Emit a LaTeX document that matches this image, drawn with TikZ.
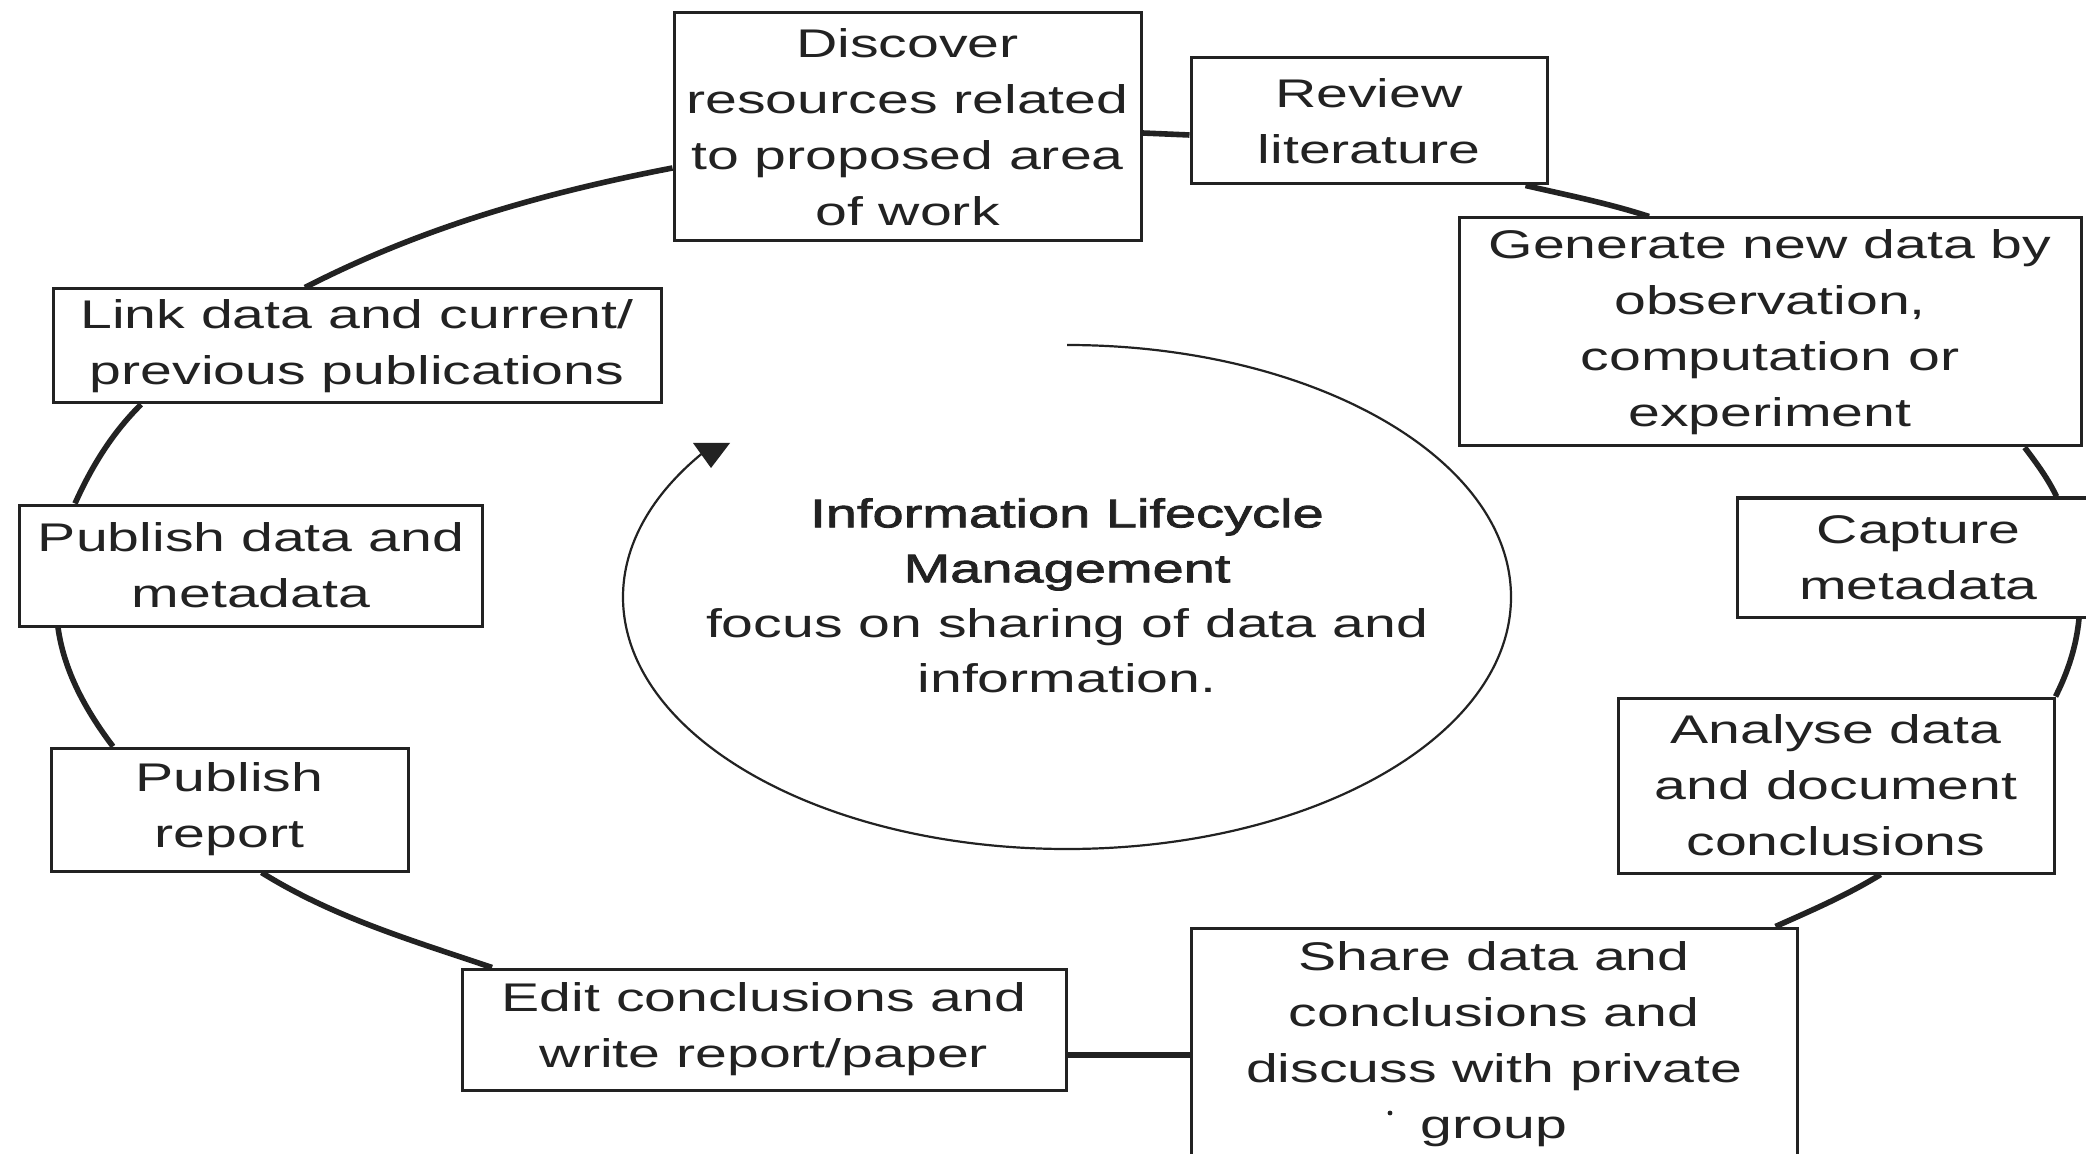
\documentclass[tikz,border=0pt]{standalone}
\usepackage{fontspec}
\setmainfont[FakeStretch=1.43]{Liberation Sans}
\newfontfamily\heavyfont[FakeStretch=1.40,FakeBold=2]{Liberation Sans}
\definecolor{ink}{RGB}{34,34,34}
\begin{document}
\begin{tikzpicture}[x=0.5pt,y=0.5pt,
  box/.style={draw=ink, line width=1.5pt, fill=white, inner sep=0pt, align=center,
    text=ink, font=\fontsize{20}{28}\selectfont},
  cyc/.style={draw=ink, line width=2.8pt, looseness=0.87},
  inner/.style={draw=ink, line width=1.1pt}
]
\clip (0,0) rectangle (2086,-1154);
\fill[white] (0,0) rectangle (2086,-1154);

% boxes
\node[box, minimum width=233.5pt, minimum height=114pt] (disc) at (907.5,-127)
  {Discover\\resources related\\to proposed area\\of work};
\node[box, minimum width=178pt, minimum height=63pt] (rev) at (1369,-121)
  {Review\\literature};
\node[box, minimum width=311pt, minimum height=114pt] (gen) at (1770,-332)
  {Generate new data by\\observation,\\computation or\\experiment};
\node[box, minimum width=181.5pt, minimum height=59.5pt] (cap) at (1918.5,-557.5)
  {Capture\\metadata};
\node[box, minimum width=218pt, minimum height=87.5pt] (ana) at (1836,-785.5)
  {Analyse data\\and document\\conclusions};
\node[box, minimum width=303pt, minimum height=116pt] (share) at (1494,-1044)
  {Share data and\\conclusions and\\discuss with private\\group};
\node[box, minimum width=302pt, minimum height=60.5pt] (edit) at (764,-1029.5)
  {Edit conclusions and\\write report/paper};
\node[box, minimum width=178.5pt, minimum height=61.5pt] (rep) at (229.5,-809.5)
  {Publish\\report};
\node[box, minimum width=231.5pt, minimum height=60.5pt] (pubd) at (251,-565.5)
  {Publish data and\\metadata};
\node[box, minimum width=304pt, minimum height=57pt] (link) at (357,-346)
  {Link data and current/\\previous publications};

% outer cycle connectors
\draw[cyc] ([yshift=-3pt]disc.east) -- ([yshift=-7pt]rev.west);
\draw[cyc] ([xshift=78.25pt]rev.south) to[out=-13,in=162] ([xshift=-60.5pt]gen.north);
\draw[cyc] ([xshift=127.35pt]gen.south) to[out=-53,in=115.5] ([xshift=69pt]cap.north);
\draw[cyc] ([xshift=80.25pt]cap.south) to[out=-95.4,in=63.2] (ana.north east);
\draw[cyc] ([xshift=22.3pt]ana.south) to[out=-148.4,in=24.1] ([xshift=140.75pt]share.north);
\draw[cyc] ([yshift=-5.5pt]share.west) -- ([yshift=-12.75pt]edit.east);
\draw[cyc] ([xshift=-136pt]edit.north) to[out=161.3,in=-31.9] ([xshift=16pt]rep.south);
\draw[cyc] ([xshift=-58.25pt]rep.north) to[out=127,in=-82.2] ([xshift=-96.5pt]pubd.south);
\draw[cyc] ([xshift=-88pt]pubd.north) to[out=65.85,in=-135.3] ([xshift=-108pt]link.south);
\draw[cyc] ([xshift=-26pt]link.north) to[out=27.2,in=-169.1] ([yshift=-20.5pt]disc.west);

% centre
\node[align=center, text=ink, inner sep=0pt, font=\fontsize{20}{27.5}\selectfont] (title) at (1067,-595.5)
  {{\heavyfont Information Lifecycle}\\{\heavyfont Management}\\focus on sharing of data and\\information.};
\coordinate (arcstart) at (1067,-345);
\draw[inner] (arcstart) arc[start angle=90, end angle=-215, x radius=444, y radius=252];
\fill[ink] (693,-443) -- (730,-443) -- (711,-468) -- cycle;

% stray mark
\fill[ink] (1390,-1113) circle (1.2pt);
\end{tikzpicture}
\end{document}
